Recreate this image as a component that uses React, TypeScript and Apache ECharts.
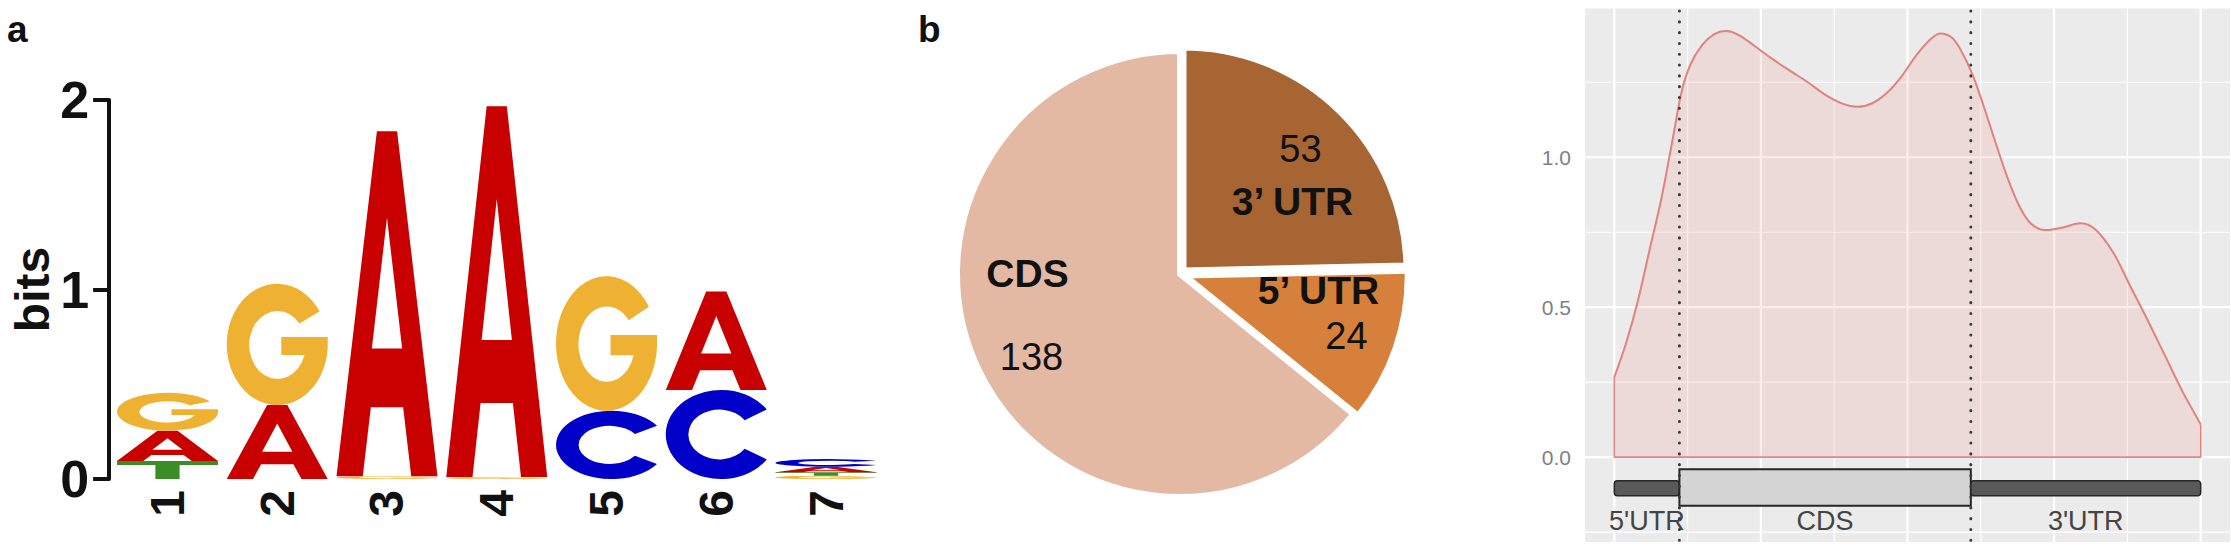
import React, { useEffect, useRef } from 'react';
import * as echarts from 'echarts';

const FONT = "'Liberation Sans', Arial, Helvetica, sans-serif";

// ---------- Panel a: sequence logo ----------
const logoPositions = ['1', '2', '3', '4', '5', '6', '7'];
// letters stacked bottom -> top
const logoLetters = [
  ['T', 'A', 'G'],
  ['A', 'G'],
  ['G', 'A'],
  ['G', 'A'],
  ['C', 'G'],
  ['C', 'A'],
  ['G', 'T', 'A', 'C'],
];
const logoBits = [
  [0.095, 0.16, 0.2],
  [0.39, 0.64],
  [0.015, 1.82],
  [0.01, 1.957],
  [0.36, 0.71],
  [0.47, 0.52],
  [0.017, 0.018, 0.03, 0.04],
];
const logoTicks = [0, 1, 2];

// ---------- Panel b: pie ----------
const pieNames = ['3\u2019 UTR', '5\u2019 UTR', 'CDS'];
const pieValues = [53, 24, 138];

// ---------- Panel c: metagene density ----------
const densityX = [0, 0.02, 0.04, 0.06, 0.08, 0.1, 0.115, 0.13, 0.15, 0.17, 0.19, 0.21, 0.24, 0.27, 0.3, 0.33, 0.36, 0.39, 0.415, 0.44, 0.465, 0.49, 0.515, 0.54, 0.556, 0.575, 0.59, 0.61, 0.63, 0.65, 0.67, 0.69, 0.71, 0.735, 0.765, 0.795, 0.82, 0.85, 0.88, 0.91, 0.94, 0.97, 1.0];
const densityY = [0.267, 0.38, 0.52, 0.69, 0.86, 1.065, 1.22, 1.31, 1.375, 1.41, 1.421, 1.41, 1.37, 1.327, 1.288, 1.25, 1.208, 1.178, 1.168, 1.18, 1.215, 1.27, 1.34, 1.395, 1.413, 1.4, 1.36, 1.28, 1.17, 1.05, 0.935, 0.84, 0.78, 0.757, 0.766, 0.78, 0.76, 0.685, 0.57, 0.455, 0.335, 0.215, 0.11];
const regionBounds = [0.111, 0.608];
const geneNames = ["5'UTR", 'CDS', "3'UTR"];
const geneStart = [0, 0.111, 0.608];
const geneEnd = [0.111, 0.608, 1];
const densityTicks = [0, 0.5, 1];
const gridMajorX = [0, 0.25, 0.5, 0.75, 1];
const gridMinorX = [0.125, 0.375, 0.625, 0.875];
const gridMajorY = [0, 0.5, 1, 1.5];
const gridMinorY = [-0.25, 0.25, 0.75, 1.25];

// glyph outlines (100 x 100 box)
const GLYPHS: Record<string, string> = {
  A: 'M0,100 L40,0 L60,0 L100,100 L74,100 L66,80 L34,80 L26,100 Z M35,63 L65,63 L50,25 Z',
  C: 'M91,22 A50,50 0 1,0 91,78 L71,66 A28,28 0 1,1 71,34 Z',
  G: 'M92,25 A50,50 0 1,0 100,55 L100,46 L54,46 L54,61 L77,61 A28,28 0 1,1 72,35 Z',
  T: 'M0,0 L100,0 L100,22 L62,22 L62,100 L38,100 L38,22 L0,22 Z',
};
const LETTER_COLORS: Record<string, string> = {
  A: '#C80000',
  C: '#0000C8',
  G: '#EFB131',
  T: '#3C8C28',
};
const LETTER_KEYS = ['A', 'C', 'G', 'T'];
const PIE_COLORS = ['#A66533', '#D6803C', '#E4B9A4'];

export default function App() {
  const ref = useRef<HTMLDivElement>(null);

  useEffect(() => {
    if (!ref.current) return;
    const chart = echarts.init(ref.current, undefined, { renderer: 'svg' });

    // logo data: [posIndex, y0, y1, letterKeyIndex]
    const logoData: number[][] = [];
    logoLetters.forEach((letters, i) => {
      let acc = 0;
      letters.forEach((L, j) => {
        const h = logoBits[i][j];
        logoData.push([i, acc, acc + h, LETTER_KEYS.indexOf(L)]);
        acc += h;
      });
    });

    const gridLineData: number[][] = [
      ...gridMajorX.map((v) => [v, 0, 1]),
      ...gridMinorX.map((v) => [v, 0, 0]),
      ...gridMajorY.map((v) => [v, 1, 1]),
      ...gridMinorY.map((v) => [v, 1, 0]),
    ];

    const last = densityY.length - 1;

    const pieLabels = [
      { t: String(pieValues[0]), x: 1300.5, y: 148.5, bold: false },
      { t: pieNames[0], x: 1292.5, y: 201, bold: true },
      { t: pieNames[1], x: 1318.5, y: 290, bold: true },
      { t: String(pieValues[1]), x: 1346.5, y: 335.5, bold: false },
      { t: pieNames[2], x: 1027.5, y: 273.5, bold: true },
      { t: String(pieValues[2]), x: 1031.5, y: 357, bold: false },
    ];

    const option: any = {
      animation: false,
      grid: [
        { left: 112.6, top: 100, width: 768.3, height: 379 },
        {
          left: 1585,
          top: 7,
          right: 1,
          bottom: 12,
          show: true,
          backgroundColor: '#EBEBEB',
          borderWidth: 0,
        },
      ],
      xAxis: [
        {
          gridIndex: 0,
          type: 'category',
          data: logoPositions,
          boundaryGap: true,
          axisLine: { show: false },
          axisTick: { show: false },
          splitLine: { show: false },
          axisLabel: {
            rotate: 90,
            fontSize: 48,
            fontWeight: 'bold',
            color: '#111',
            margin: 11,
            fontFamily: FONT,
          },
        },
        {
          gridIndex: 1,
          type: 'value',
          min: -0.05,
          max: 1.05,
          show: false,
          splitLine: { show: false },
        },
      ],
      yAxis: [
        {
          gridIndex: 0,
          type: 'value',
          min: 0,
          max: 2,
          interval: 1,
          offset: 3.5,
          name: 'bits',
          nameLocation: 'middle',
          nameRotate: 90,
          nameGap: 48,
          nameTextStyle: { fontSize: 48, fontWeight: 'bold', color: '#111', fontFamily: FONT },
          axisLine: { show: true, lineStyle: { color: '#111', width: 4 } },
          axisTick: { show: true, length: 16, lineStyle: { color: '#111', width: 4 } },
          splitLine: { show: false },
          axisLabel: {
            customValues: logoTicks,
            fontSize: 52,
            fontWeight: 'bold',
            color: '#111',
            margin: 20,
            fontFamily: FONT,
          },
        },
        {
          gridIndex: 1,
          type: 'value',
          min: -0.283,
          max: 1.501,
          axisLine: { show: false },
          axisTick: { show: false },
          splitLine: { show: false },
          axisLabel: {
            customValues: densityTicks,
            formatter: (v: number) => v.toFixed(1),
            color: '#7f7f7f',
            fontSize: 21,
            margin: 14,
            fontFamily: FONT,
          },
        },
      ],
      series: [
        // sequence logo letters
        {
          type: 'custom',
          xAxisIndex: 0,
          yAxisIndex: 0,
          encode: { x: 0, y: [1, 2] },
          data: logoData,
          renderItem: (params: any, api: any) => {
            const i = api.value(0);
            const y0 = api.value(1);
            const y1 = api.value(2);
            const L = LETTER_KEYS[api.value(3)];
            const bw = api.size([1, 0])[0] * 0.92;
            const top = api.coord([i, y1]);
            const bot = api.coord([i, y0]);
            return {
              type: 'path',
              shape: {
                pathData: GLYPHS[L],
                layout: 'cover',
                x: top[0] - bw / 2,
                y: top[1],
                width: bw,
                height: Math.max(bot[1] - top[1], 0.6),
              },
              style: { fill: LETTER_COLORS[L] },
            };
          },
        },
        // pie
        {
          type: 'pie',
          center: [1180, 274],
          radius: 223,
          startAngle: 90,
          clockwise: true,
          selectedMode: 'multiple',
          selectedOffset: 5,
          label: { show: false },
          labelLine: { show: false },
          emphasis: { disabled: true },
          itemStyle: { borderColor: '#ffffff', borderWidth: 6 },
          data: pieNames.map((n, i) => ({
            name: n,
            value: pieValues[i],
            selected: i < 2,
            itemStyle: { color: PIE_COLORS[i] },
          })),
        },
        // panel c grid lines
        {
          type: 'custom',
          xAxisIndex: 1,
          yAxisIndex: 1,
          z: 1,
          silent: true,
          data: gridLineData,
          renderItem: (params: any, api: any) => {
            const cs = params.coordSys;
            const v = api.value(0);
            const orient = api.value(1);
            const major = api.value(2);
            const lw = major ? 2.2 : 1.1;
            if (orient === 0) {
              const x = api.coord([v, 0])[0];
              return {
                type: 'line',
                shape: { x1: x, y1: cs.y, x2: x, y2: cs.y + cs.height },
                style: { stroke: '#ffffff', lineWidth: lw },
              };
            }
            const y = api.coord([0, v])[1];
            return {
              type: 'line',
              shape: { x1: cs.x, y1: y, x2: cs.x + cs.width, y2: y },
              style: { stroke: '#ffffff', lineWidth: lw },
            };
          },
        },
        // density curve with fill
        {
          type: 'line',
          xAxisIndex: 1,
          yAxisIndex: 1,
          z: 2,
          data: densityX.map((x, i) => [x, densityY[i]]),
          smooth: 0.35,
          symbol: 'none',
          silent: true,
          lineStyle: { color: '#E0837D', width: 2 },
          areaStyle: { color: 'rgba(248,118,109,0.2)' },
        },
        // density polygon edges
        {
          type: 'line',
          xAxisIndex: 1,
          yAxisIndex: 1,
          z: 2,
          data: [
            [densityX[0], densityY[0]],
            [densityX[0], 0],
            [densityX[last], 0],
            [densityX[last], densityY[last]],
          ],
          symbol: 'none',
          silent: true,
          lineStyle: { color: '#E0837D', width: 1.6 },
        },
        // gene model
        {
          type: 'custom',
          xAxisIndex: 1,
          yAxisIndex: 1,
          z: 3,
          silent: true,
          data: geneNames.map((n, i) => [geneStart[i], geneEnd[i], i]),
          renderItem: (params: any, api: any) => {
            const s = api.value(0);
            const e = api.value(1);
            const idx = api.value(2);
            const isCds = geneNames[idx] === 'CDS';
            const yTop = isCds ? -0.04 : -0.079;
            const yBot = isCds ? -0.162 : -0.129;
            const p0 = api.coord([s, yTop]);
            const p1 = api.coord([e, yBot]);
            const ty = api.coord([0, -0.212])[1];
            return {
              type: 'group',
              children: [
                {
                  type: 'rect',
                  shape: { x: p0[0], y: p0[1], width: p1[0] - p0[0], height: p1[1] - p0[1], r: isCds ? 0 : 3 },
                  style: { fill: isCds ? '#D4D4D4' : '#595959', stroke: '#262626', lineWidth: isCds ? 2 : 1.5 },
                },
                {
                  type: 'text',
                  style: {
                    text: geneNames[idx],
                    x: (p0[0] + p1[0]) / 2,
                    y: ty,
                    align: 'center',
                    verticalAlign: 'middle',
                    textAlign: 'center',
                    textVerticalAlign: 'middle',
                    font: `27px ${FONT}`,
                    fill: '#444444',
                  },
                },
              ],
            };
          },
        },
        // dotted region boundaries
        {
          type: 'custom',
          xAxisIndex: 1,
          yAxisIndex: 1,
          z: 4,
          silent: true,
          data: regionBounds.map((v) => [v, 0]),
          renderItem: (params: any, api: any) => {
            const cs = params.coordSys;
            const x = api.coord([api.value(0), 0])[0];
            return {
              type: 'line',
              shape: { x1: x, y1: cs.y + 4, x2: x, y2: cs.y + cs.height + 2 },
              style: { stroke: '#3a3a3a', lineWidth: 3, lineDash: [0.1, 10.7], lineCap: 'round' },
            };
          },
        },
      ],
      graphic: [
        {
          type: 'text',
          x: 7,
          y: 29,
          style: { text: 'a', font: `bold 37px ${FONT}`, fill: '#111', verticalAlign: 'middle', textVerticalAlign: 'middle' },
        },
        {
          type: 'text',
          x: 918,
          y: 29,
          style: { text: 'b', font: `bold 37px ${FONT}`, fill: '#111', verticalAlign: 'middle', textVerticalAlign: 'middle' },
        },
        ...pieLabels.map((d) => ({
          type: 'text',
          x: d.x,
          y: d.y,
          z: 10,
          style: {
            text: d.t,
            font: `${d.bold ? 'bold 39px' : '38px'} ${FONT}`,
            fill: '#111',
            align: 'center',
            verticalAlign: 'middle',
            textAlign: 'center',
            textVerticalAlign: 'middle',
          },
        })),
      ],
    };

    chart.setOption(option);
    return () => chart.dispose();
  }, []);

  return (
    <div
      ref={ref}
      style={{ position: 'fixed', left: 0, top: 0, width: 2231, height: 554, background: '#ffffff' }}
    />
  );
}
